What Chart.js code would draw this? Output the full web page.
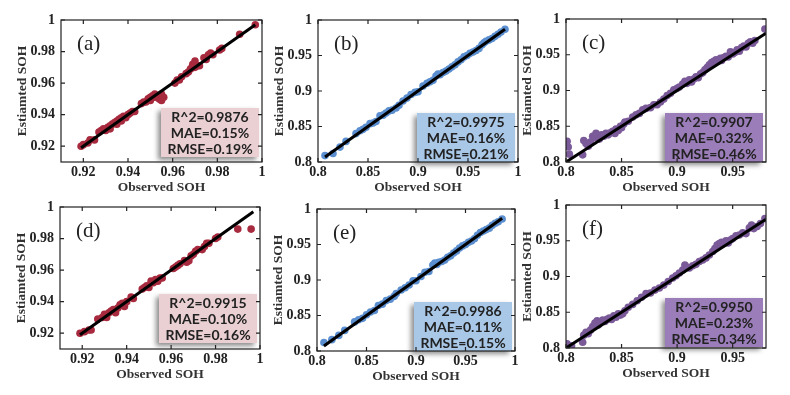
<!DOCTYPE html>
<html>
<head>
<meta charset="utf-8">
<script src="https://cdn.jsdelivr.net/npm/chart.js@4.4.1/dist/chart.umd.min.js"></script>
<style>
  html, body { margin: 0; padding: 0; background: #fff; }
  #wrap { position: relative; width: 790px; height: 395px; overflow: hidden; }
  #wrap canvas { position: absolute; }
</style>
</head>
<body>
<div id="wrap"></div>
<script>
// ---- data ----
// (a) red, 0.91..1
const obsA = [0.919,0.920,0.922,0.923,0.925,0.927,0.928,0.929,0.930,0.931,0.932,0.932,0.933,0.934,0.935,0.935,0.936,0.937,0.937,0.938,0.939,0.940,0.941,0.942,0.943,0.946,0.947,0.948,0.949,0.950,0.950,0.951,0.952,0.952,0.953,0.954,0.955,0.956,0.955,0.961,0.962,0.963,0.964,0.966,0.967,0.968,0.969,0.970,0.970,0.971,0.972,0.974,0.975,0.976,0.977,0.978,0.981,0.982,0.990,0.997];
const estA = [0.920,0.921,0.922,0.924,0.924,0.929,0.930,0.931,0.930,0.932,0.933,0.931,0.934,0.935,0.934,0.936,0.937,0.936,0.938,0.939,0.938,0.940,0.941,0.942,0.942,0.947,0.948,0.948,0.950,0.949,0.951,0.952,0.951,0.953,0.952,0.950,0.949,0.951,0.953,0.960,0.962,0.962,0.964,0.966,0.967,0.969,0.972,0.974,0.970,0.971,0.971,0.976,0.975,0.978,0.979,0.978,0.981,0.982,0.991,0.997];
const fitA = [0.919, 0.997];

// (b) blue, 0.8..1
const obsB = [0.807,0.815,0.822,0.828,0.838,0.842,0.845,0.848,0.852,0.855,0.858,0.862,0.865,0.868,0.871,0.874,0.878,0.881,0.885,0.889,0.893,0.897,0.900,0.905,0.909,0.912,0.915,0.918,0.920,0.922,0.925,0.928,0.931,0.934,0.937,0.940,0.943,0.946,0.949,0.952,0.955,0.958,0.961,0.964,0.966,0.968,0.971,0.974,0.977,0.980,0.983,0.987];
const estB = [0.809,0.812,0.821,0.829,0.840,0.844,0.846,0.849,0.854,0.855,0.857,0.865,0.866,0.869,0.872,0.873,0.876,0.880,0.886,0.890,0.895,0.898,0.899,0.907,0.911,0.913,0.915,0.921,0.924,0.923,0.926,0.928,0.931,0.934,0.937,0.941,0.944,0.948,0.950,0.953,0.955,0.957,0.960,0.965,0.968,0.970,0.972,0.974,0.977,0.980,0.983,0.987];
const fitB = [0.807, 0.987];

// (c) purple, 0.8..0.98
const obsC = [0.801,0.802,0.803,0.815,0.816,0.818,0.820,0.822,0.824,0.826,0.827,0.829,0.830,0.832,0.834,0.836,0.838,0.840,0.842,0.844,0.845,0.847,0.849,0.850,0.852,0.853,0.856,0.860,0.863,0.866,0.869,0.872,0.876,0.879,0.882,0.885,0.888,0.891,0.894,0.897,0.900,0.902,0.905,0.907,0.909,0.911,0.913,0.915,0.917,0.919,0.921,0.923,0.925,0.927,0.929,0.931,0.933,0.935,0.937,0.939,0.940,0.942,0.944,0.946,0.948,0.950,0.952,0.954,0.956,0.958,0.960,0.962,0.964,0.966,0.968,0.970,0.979];
const estC = [0.829,0.821,0.811,0.810,0.830,0.826,0.822,0.828,0.836,0.834,0.840,0.835,0.832,0.838,0.836,0.840,0.838,0.841,0.843,0.840,0.846,0.844,0.850,0.848,0.853,0.856,0.857,0.863,0.866,0.868,0.873,0.875,0.876,0.880,0.880,0.884,0.888,0.893,0.896,0.901,0.903,0.905,0.909,0.913,0.910,0.915,0.912,0.916,0.919,0.918,0.923,0.925,0.929,0.932,0.936,0.939,0.941,0.943,0.941,0.945,0.942,0.946,0.948,0.947,0.954,0.951,0.953,0.957,0.955,0.960,0.962,0.961,0.966,0.968,0.966,0.970,0.986];
const fitC = [0.8, 0.98];

// (d) red, 0.91..1
const obsD = [0.919,0.921,0.923,0.924,0.927,0.929,0.930,0.931,0.932,0.933,0.934,0.935,0.936,0.937,0.938,0.939,0.940,0.942,0.943,0.947,0.948,0.949,0.950,0.951,0.952,0.953,0.954,0.955,0.956,0.961,0.962,0.963,0.964,0.966,0.967,0.968,0.969,0.970,0.971,0.972,0.974,0.975,0.976,0.977,0.980,0.981,0.990,0.996];
const estD = [0.920,0.921,0.922,0.922,0.929,0.930,0.932,0.930,0.933,0.934,0.935,0.933,0.936,0.938,0.939,0.937,0.940,0.943,0.942,0.948,0.949,0.950,0.949,0.953,0.952,0.954,0.953,0.955,0.955,0.961,0.962,0.963,0.964,0.966,0.965,0.966,0.969,0.970,0.972,0.973,0.973,0.975,0.977,0.977,0.980,0.981,0.986,0.986];
const fitD = [0.919, 0.997];

// (e) blue, 0.8..1
const obsE = [0.807,0.815,0.822,0.828,0.838,0.842,0.846,0.850,0.854,0.858,0.862,0.866,0.870,0.874,0.878,0.880,0.885,0.889,0.893,0.897,0.900,0.905,0.909,0.913,0.917,0.919,0.921,0.923,0.926,0.929,0.932,0.935,0.938,0.941,0.944,0.947,0.950,0.953,0.956,0.959,0.962,0.965,0.968,0.971,0.974,0.977,0.980,0.983,0.987];
const estE = [0.812,0.816,0.822,0.829,0.841,0.844,0.846,0.851,0.855,0.857,0.864,0.866,0.871,0.873,0.877,0.881,0.886,0.889,0.893,0.899,0.899,0.905,0.911,0.912,0.921,0.924,0.922,0.925,0.926,0.928,0.932,0.934,0.938,0.941,0.945,0.948,0.950,0.953,0.955,0.958,0.963,0.967,0.969,0.971,0.973,0.977,0.980,0.982,0.986];
const fitE = [0.807, 0.987];

// (f) purple, 0.8..0.98
const obsF = [0.801,0.805,0.815,0.816,0.818,0.820,0.822,0.824,0.826,0.828,0.829,0.831,0.833,0.835,0.837,0.839,0.841,0.843,0.845,0.847,0.849,0.851,0.853,0.856,0.860,0.864,0.868,0.872,0.876,0.880,0.884,0.888,0.892,0.896,0.899,0.902,0.905,0.907,0.909,0.911,0.914,0.917,0.920,0.923,0.926,0.929,0.932,0.934,0.936,0.938,0.940,0.942,0.944,0.946,0.948,0.950,0.953,0.956,0.959,0.962,0.965,0.967,0.969,0.972,0.975,0.979];
const estF = [0.806,0.803,0.808,0.818,0.822,0.820,0.825,0.830,0.835,0.838,0.832,0.836,0.839,0.837,0.840,0.842,0.840,0.845,0.843,0.848,0.846,0.848,0.852,0.857,0.861,0.866,0.871,0.876,0.877,0.881,0.884,0.888,0.893,0.898,0.901,0.905,0.909,0.916,0.913,0.912,0.915,0.917,0.921,0.923,0.926,0.930,0.935,0.939,0.944,0.946,0.948,0.946,0.950,0.947,0.951,0.953,0.957,0.958,0.961,0.960,0.968,0.972,0.967,0.970,0.974,0.981];
const fitF = [0.8, 0.98];

// ticks
const ticksFine = [0.92, 0.94, 0.96, 0.98, 1];
const ticksWide = [0.8, 0.85, 0.9, 0.95, 1];
const ticksShort = [0.8, 0.85, 0.9, 0.95];

// metrics in the boxes
const panelTags = ['(a)', '(b)', '(c)', '(d)', '(e)', '(f)'];
const r2Vals = ['0.9876', '0.9975', '0.9907', '0.9915', '0.9986', '0.9950'];
const maeVals = ['0.15%', '0.16%', '0.32%', '0.10%', '0.11%', '0.23%'];
const rmseVals = ['0.19%', '0.21%', '0.46%', '0.16%', '0.15%', '0.34%'];

// ---- styles ----
const RED = '#a72a3e', BLUE = '#5b8fd0', PURPLE = '#7b5a99';
const PINK_BOX = '#ead0d3', BLUE_BOX = '#a9c8e8', PURPLE_BOX = '#9b7db9';
const SERIF = '"Liberation Serif", "Times New Roman", serif';

const YAXIS_W = 61, XAXIS_H = 34, PAD_TOP = 20, PAD_RIGHT = 6, PAD_BOTTOM = 2;

// chart area in page pixels: [left, right, top, bottom]
const panes = [
  { obs: obsA, est: estA, fit: fitA, xt: ticksFine, yt: ticksFine, xr: [0.91, 1], yr: [0.91, 1], dot: RED, fill: PINK_BOX, area: [61, 262, 20, 162], gap: 5 },
  { obs: obsB, est: estB, fit: fitB, xt: ticksWide, yt: ticksWide, xr: [0.8, 1], yr: [0.8, 1], dot: BLUE, fill: BLUE_BOX, area: [318, 518, 20, 162], gap: 0 },
  { obs: obsC, est: estC, fit: fitC, xt: ticksShort, yt: ticksWide, xr: [0.8, 0.98], yr: [0.8, 1], dot: PURPLE, fill: PURPLE_BOX, area: [566, 766, 19, 162], gap: 0 },
  { obs: obsD, est: estD, fit: fitD, xt: ticksFine, yt: ticksFine, xr: [0.91, 1], yr: [0.91, 1], dot: RED, fill: PINK_BOX, area: [60, 260, 207, 349], gap: 6 },
  { obs: obsE, est: estE, fit: fitE, xt: ticksWide, yt: ticksWide, xr: [0.8, 1], yr: [0.8, 1], dot: BLUE, fill: BLUE_BOX, area: [317, 515, 209, 351], gap: 0 },
  { obs: obsF, est: estF, fit: fitF, xt: ticksShort, yt: ticksWide, xr: [0.8, 0.98], yr: [0.8, 1], dot: PURPLE, fill: PURPLE_BOX, area: [566, 766, 205, 348], gap: 1 }
];

const fmt = v => String(+Number(v).toFixed(3));

// frame, inner ticks, tag and metric box
const framePlugin = {
  id: 'frame',
  afterDatasetsDraw(chart, args, opts) {
    const { ctx, chartArea: a, scales: { x, y } } = chart;
    ctx.save();

    // metric box with soft shadow
    const bw = 98, bh = 49;
    const bx = a.right - 3 - bw, by = a.bottom - opts.gap - bh;
    ctx.shadowColor = 'rgba(0,0,0,0.45)';
    ctx.shadowBlur = 5;
    ctx.shadowOffsetX = -3;
    ctx.shadowOffsetY = 3;
    ctx.fillStyle = opts.fill;
    ctx.fillRect(bx, by, bw, bh);
    ctx.shadowColor = 'transparent';

    ctx.fillStyle = '#222';
    ctx.font = 'bold 14px Lato, "Open Sans", sans-serif';
    ctx.textAlign = 'center';
    ctx.textBaseline = 'middle';
    opts.lines.forEach((t, i) => ctx.fillText(t, bx + bw / 2, by + 9 + i * 16));

    // panel tag
    ctx.font = '21px ' + SERIF;
    ctx.textAlign = 'left';
    ctx.fillStyle = '#222';
    ctx.fillText(opts.tag, a.left + 16, a.top + 24);

    // box frame
    ctx.strokeStyle = '#222';
    ctx.lineWidth = 1.2;
    ctx.strokeRect(a.left, a.top, a.right - a.left, a.bottom - a.top);

    // inner tick marks on all four sides
    ctx.beginPath();
    x.ticks.forEach(t => {
      const px = x.getPixelForValue(t.value);
      ctx.moveTo(px, a.bottom); ctx.lineTo(px, a.bottom - 4);
      ctx.moveTo(px, a.top); ctx.lineTo(px, a.top + 4);
    });
    y.ticks.forEach(t => {
      const py = y.getPixelForValue(t.value);
      ctx.moveTo(a.left, py); ctx.lineTo(a.left + 4, py);
      ctx.moveTo(a.right, py); ctx.lineTo(a.right - 4, py);
    });
    ctx.stroke();
    ctx.restore();
  }
};

const wrap = document.getElementById('wrap');

panes.forEach((p, i) => {
  const [l, r, t, b] = p.area;
  const canvas = document.createElement('canvas');
  canvas.width = (r - l) + YAXIS_W + PAD_RIGHT;
  canvas.height = (b - t) + PAD_TOP + XAXIS_H + PAD_BOTTOM;
  canvas.style.left = (l - YAXIS_W) + 'px';
  canvas.style.top = (t - PAD_TOP) + 'px';
  wrap.appendChild(canvas);

  const tickFont = { family: SERIF, size: 14, weight: 'bold' };
  const titleFont = { family: SERIF, size: 13.5, weight: 'bold' };

  new Chart(canvas, {
    type: 'scatter',
    data: {
      datasets: [
        {
          data: p.fit.map(v => ({ x: v, y: v })),
          showLine: true,
          borderColor: '#000',
          borderWidth: 3,
          pointRadius: 0
        },
        {
          data: p.obs.map((v, k) => ({ x: v, y: p.est[k] })),
          backgroundColor: p.dot,
          borderWidth: 0,
          pointRadius: 3.8
        }
      ]
    },
    options: {
      responsive: false,
      animation: false,
      layout: { padding: { left: 0, top: PAD_TOP, right: PAD_RIGHT, bottom: PAD_BOTTOM } },
      plugins: {
        legend: { display: false },
        tooltip: { enabled: false },
        frame: {
          tag: panelTags[i],
          fill: p.fill,
          gap: p.gap,
          lines: ['R^2=' + r2Vals[i], 'MAE=' + maeVals[i], 'RMSE=' + rmseVals[i]]
        }
      },
      scales: {
        x: {
          type: 'linear',
          min: p.xr[0],
          max: p.xr[1],
          afterBuildTicks: s => { s.ticks = p.xt.map(v => ({ value: v })); },
          afterFit: s => { s.height = XAXIS_H; },
          grid: { display: false, drawTicks: false },
          border: { display: false },
          ticks: { color: '#222', font: tickFont, padding: 2, maxRotation: 0, autoSkip: false, callback: fmt },
          title: { display: true, text: 'Observed SOH', color: '#333', font: titleFont, padding: 0 }
        },
        y: {
          type: 'linear',
          min: p.yr[0],
          max: p.yr[1],
          afterBuildTicks: s => { s.ticks = p.yt.map(v => ({ value: v })); },
          afterFit: s => { s.width = YAXIS_W; },
          grid: { display: false, drawTicks: false },
          border: { display: false },
          ticks: { color: '#222', font: tickFont, padding: 6, autoSkip: false, callback: fmt },
          title: { display: true, text: 'Estiamted SOH', color: '#333', font: titleFont, padding: { top: 14, bottom: 0 } }
        }
      }
    },
    plugins: [framePlugin]
  });
});
</script>
</body>
</html>
